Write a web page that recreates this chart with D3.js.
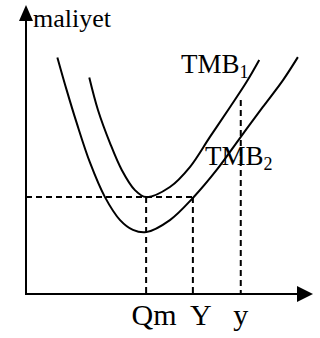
<!DOCTYPE html>
<html>
<head>
<meta charset="utf-8">
<script src="https://cdn.jsdelivr.net/npm/d3@7"></script>
<style>
  html, body { margin: 0; padding: 0; background: #fff; }
  svg { display: block; }
  text { font-family: "Liberation Serif", "Times New Roman", serif; fill: #000; }
</style>
</head>
<body>
<svg width="320" height="338"></svg>
<script>
// in axis units (origin at the axis corner)
const tmb1X = [2.26, 2.57, 3.0, 3.42, 3.89, 4.29, 5.14, 5.86, 6.57, 7.29, 7.88, 8.33];
const tmb1Y = [7.73, 6.57, 5.39, 4.43, 3.71, 3.46, 3.82, 4.54, 5.61, 6.68, 7.58, 8.36];
const tmb2X = [1.12, 1.45, 1.81, 2.29, 2.82, 3.36, 3.82, 4.29, 5.14, 5.96, 6.81, 7.64, 8.46, 9.18, 9.71];
const tmb2Y = [8.45, 7.29, 6.11, 4.68, 3.46, 2.64, 2.29, 2.21, 2.64, 3.43, 4.43, 5.57, 6.68, 7.64, 8.46];

const tickLabels = ["Qm", "Y", "y"];
const tickValues = [4.29, 5.96, 7.67];
const guideTops = [3.46, 3.46, 6.93];   // where each vertical dashed line stops
const costLevel = 3.46;                 // horizontal dashed line (min of TMB1)

const svg = d3.select("svg");
const x = d3.scaleLinear().domain([0, 10]).range([26, 306]);
const y = d3.scaleLinear().domain([0, 10]).range([294, 14]);

// axes with arrow heads
svg.append("line")
    .attr("x1", x(0)).attr("y1", y(0) + 1)
    .attr("x2", x(0)).attr("y2", 12)
    .attr("stroke", "#000").attr("stroke-width", 2);
svg.append("path")
    .attr("d", `M${x(0)},5 L${x(0) - 7},21 L${x(0) + 7},21 Z`)
    .attr("fill", "#000");

svg.append("line")
    .attr("x1", x(0) - 1).attr("y1", y(0))
    .attr("x2", 305).attr("y2", y(0))
    .attr("stroke", "#000").attr("stroke-width", 2);
svg.append("path")
    .attr("d", `M313,${y(0)} L297,${y(0) - 8} L297,${y(0) + 8} Z`)
    .attr("fill", "#000");

svg.append("text")
    .attr("x", 33).attr("y", 27)
    .style("font-size", "26px")
    .text("maliyet");

// dashed guides
const dash = "6,4";
svg.append("line")
    .attr("x1", x(0)).attr("y1", y(costLevel))
    .attr("x2", x(tickValues[1])).attr("y2", y(costLevel))
    .attr("stroke", "#000").attr("stroke-width", 2)
    .attr("stroke-dasharray", dash);

svg.selectAll(".guide")
    .data(tickValues)
    .join("line")
    .attr("class", "guide")
    .attr("x1", d => x(d)).attr("x2", d => x(d))
    .attr("y1", (d, i) => y(guideTops[i]))
    .attr("y2", y(0))
    .attr("stroke", "#000").attr("stroke-width", 2)
    .attr("stroke-dasharray", dash);

// cost curves
const line = d3.line()
    .x(d => x(d[0]))
    .y(d => y(d[1]))
    .curve(d3.curveCatmullRom.alpha(0.5));

[[tmb1X, tmb1Y], [tmb2X, tmb2Y]].forEach(([xs, ys]) => {
    svg.append("path")
        .datum(d3.zip(xs, ys))
        .attr("d", line)
        .attr("fill", "none")
        .attr("stroke", "#000")
        .attr("stroke-width", 2);
});

// curve labels
function curveLabel(px, py, sub) {
    const t = svg.append("text")
        .attr("x", px).attr("y", py)
        .style("font-size", "27px");
    t.append("tspan").text("TMB");
    t.append("tspan")
        .attr("dy", 5)
        .style("font-size", "18px")
        .text(sub);
}
curveLabel(181, 73, "1");
curveLabel(205, 165, "2");

// x tick labels
const tickOffsets = [8, 8, 0];
svg.selectAll(".tick-label")
    .data(tickLabels)
    .join("text")
    .attr("class", "tick-label")
    .attr("x", (d, i) => x(tickValues[i]) + tickOffsets[i])
    .attr("y", 325)
    .attr("text-anchor", "middle")
    .style("font-size", "30px")
    .text(d => d);
</script>
</body>
</html>
